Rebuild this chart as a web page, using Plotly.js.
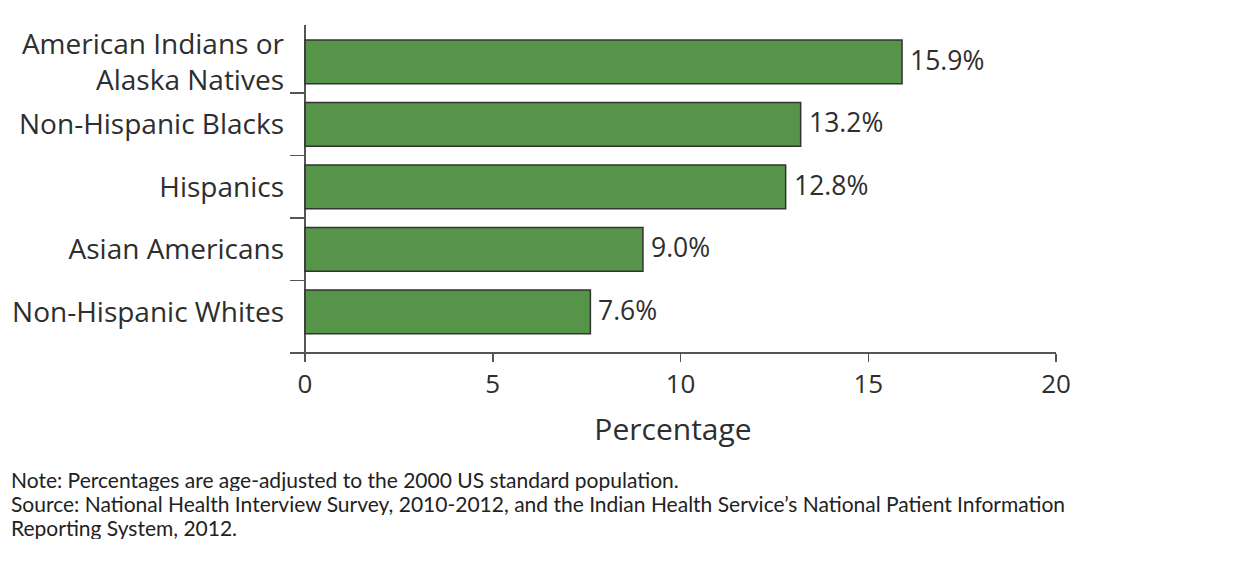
<!DOCTYPE html>
<html>
<head>
<meta charset="utf-8">
<script src="https://cdn.plot.ly/plotly-3.0.1.min.js"></script>
<style>html,body{margin:0;padding:0;background:#fff;}#chart{width:1255px;height:567px;}</style>
</head>
<body>
<div id="chart"></div>
<script>
var categories = ["American Indians or<br>Alaska Natives", "Non-Hispanic Blacks", "Hispanics", "Asian Americans", "Non-Hispanic Whites"];
var values = [15.9, 13.2, 12.8, 9.0, 7.6];
var valueLabels = ["15.9%", "13.2%", "12.8%", "9.0%", "7.6%"];
var xTicks = [0, 5, 10, 15, 20];
var noteLines = [
  "Note: Percentages are age-adjusted to the 2000 US standard population.",
  "Source: National Health Interview Survey, 2010-2012, and the Indian Health Service\u2019s National Patient Information",
  "Reporting System, 2012."
];

var idx = categories.map(function(_, i){ return i; });
var font = "Open Sans, Noto Sans, sans-serif";
var txt = "#2e2e2e";

var trace = {
  type: "bar", orientation: "h",
  x: values, y: idx,
  width: 0.7,
  marker: {color: "#56944a", line: {color: "#333333", width: 1.5}},
  hoverinfo: "skip"
};
var dummy = {type: "scatter", x: [0], y: [0], yaxis: "y2", mode: "none", showlegend: false, hoverinfo: "skip"};

var annotations = values.map(function(v, i){
  return {x: v, y: i, xref: "x", yref: "y", text: valueLabels[i], showarrow: false,
          xanchor: "left", xshift: 6, yshift: 2, font: {family: font, size: 26.5, color: txt}};
});
noteLines.forEach(function(line, i){
  annotations.push({xref: "paper", yref: "paper", x: -0.367, y: -0.391 - 0.0734 * i,
    xanchor: "left", yanchor: "middle", align: "left", showarrow: false, text: line,
    height: 23, valign: "middle",
    font: {family: "Lato, sans-serif", size: 21, color: "#222"}});
});

var yRange = [4.64, -0.59];
var layout = {
  width: 1255, height: 567,
  margin: {l: 290, r: 199, t: 25, b: 215},
  paper_bgcolor: "#fff", plot_bgcolor: "#fff",
  showlegend: false,
  xaxis: {range: [-0.4, 20], tickvals: xTicks, ticks: "outside", ticklen: 8, tickcolor: "#555", tickwidth: 1.5,
          showline: true, linecolor: "#555", linewidth: 1.5, showgrid: false,
          zeroline: true, zerolinecolor: "#555", zerolinewidth: 1.5,
          tickfont: {family: font, size: 26, color: txt},
          title: {text: "Percentage", font: {family: font, size: 30, color: txt}, standoff: 19}},
  yaxis: {range: yRange, tickvals: idx, ticktext: categories, ticks: "", showline: false, showgrid: false,
          zeroline: false, ticklabelstandoff: 5,
          tickfont: {family: font, size: 28, color: txt}},
  yaxis2: {overlaying: "y", anchor: "free", position: 15/766, side: "left", range: yRange,
           tickvals: [0.5, 1.5, 2.5, 3.5], ticks: "outside", ticklen: 15, tickcolor: "#555", tickwidth: 1.5,
           showticklabels: false, showline: false, showgrid: false, zeroline: false},
  annotations: annotations,
  bargap: 0.3
};
Plotly.newPlot("chart", [trace, dummy], layout, {displayModeBar: false, staticPlot: true});
</script>
</body>
</html>
